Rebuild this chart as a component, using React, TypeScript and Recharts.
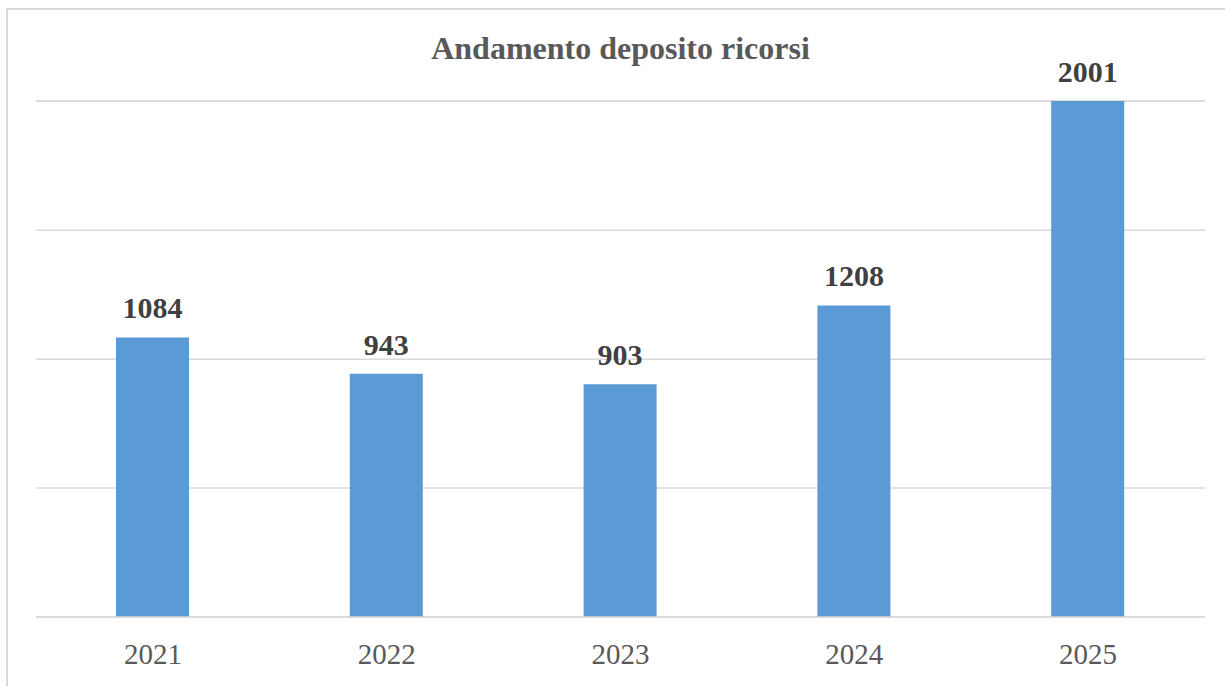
import { BarChart, Bar, XAxis, YAxis, CartesianGrid, LabelList } from 'recharts';

// Chart values
const years = ['2021', '2022', '2023', '2024', '2025'];
const ricorsi = [1084, 943, 903, 1208, 2001];
const yTicks = [0, 500, 1000, 1500, 2000];

const chartData = years.map((year, i) => ({ year, ricorsi: ricorsi[i] }));

const FONT = '"Liberation Serif", "Times New Roman", serif';
const BAR_COLOR = '#5b9bd5';
const GRID_COLOR = '#d9d9d9';

export default function App() {
  return (
    <div style={{ position: 'absolute', left: 0, top: 0, width: 1225, height: 686, background: '#fff', overflow: 'hidden' }}>
      {/* outer frame */}
      <div
        style={{
          position: 'absolute',
          left: 6,
          top: 8,
          width: 1240,
          height: 700,
          border: `2px solid ${GRID_COLOR}`,
          boxSizing: 'border-box',
        }}
      />
      <div
        style={{
          position: 'absolute',
          left: 36,
          width: 1169,
          top: 30,
          textAlign: 'center',
          fontFamily: FONT,
          fontWeight: 'bold',
          fontSize: 32,
          color: '#595959',
          lineHeight: '36px',
        }}
      >
        Andamento deposito ricorsi
      </div>
      <div style={{ position: 'absolute', left: 0, top: 0 }}>
        <BarChart
          width={1225}
          height={686}
          data={chartData}
          margin={{ top: 101, right: 20, bottom: 19, left: 36 }}
        >
          <CartesianGrid vertical={false} stroke={GRID_COLOR} strokeWidth={1.5} />
          <XAxis
            dataKey="year"
            height={50}
            axisLine={{ stroke: GRID_COLOR, strokeWidth: 1.5 }}
            tickLine={false}
            tickSize={6}
            tickMargin={20}
            tick={{ fill: '#595959', fontSize: 29, fontFamily: FONT }}
          />
          <YAxis hide domain={[0, 2000]} ticks={yTicks} />
          <Bar dataKey="ricorsi" fill={BAR_COLOR} barSize={73} isAnimationActive={false}>
            <LabelList
              dataKey="ricorsi"
              position="top"
              offset={19}
              fill="#404040"
              fontSize={30}
              fontWeight="bold"
              fontFamily={FONT}
            />
          </Bar>
        </BarChart>
      </div>
    </div>
  );
}
